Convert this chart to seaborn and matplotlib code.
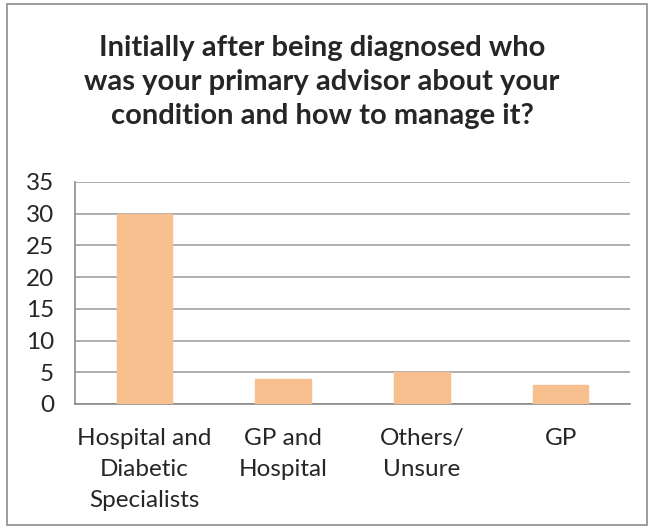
import matplotlib
matplotlib.use("Agg")
import matplotlib.pyplot as plt
import seaborn as sns
import pandas as pd
from matplotlib.patches import Rectangle

categories = ["Hospital and\nDiabetic\nSpecialists", "GP and\nHospital", "Others/\nUnsure", "GP"]
values = [30, 4, 5, 3]
title = "Initially after being diagnosed who\nwas your primary advisor about your\ncondition and how to manage it?"

sns.set_style("white")
plt.rcParams['font.family'] = ['Lato', 'DejaVu Sans']

df = pd.DataFrame({"cat": categories, "val": values})

fig = plt.figure(figsize=(6.54, 5.29), dpi=100)
ax = fig.add_axes([75/654, 1-404/529, (630-75)/654, (404-182)/529])

sns.barplot(data=df, x="cat", y="val", color="#F9C08F", saturation=1, width=0.4,
            edgecolor="#F9C08F", ax=ax, zorder=3)

ax.set_ylim(0, 35)
ax.set_xlim(-0.5, 3.5)
ax.set_yticks(range(0, 36, 5))
ax.yaxis.grid(True, color="#A0A0A0", linewidth=1.2, zorder=0)
ax.set_axisbelow(True)
for s in ["top", "right"]:
    ax.spines[s].set_visible(False)
ax.spines["left"].set_color("#8C8C8C")
ax.spines["bottom"].set_color("#8C8C8C")
ax.spines["left"].set_linewidth(1.2)
ax.spines["bottom"].set_linewidth(1.2)
ax.set_xlabel("")
ax.set_ylabel("")

ax.set_xticks([0, 1, 2, 3])
ax.set_xticklabels(categories, fontsize=17.5, linespacing=1.6)
ax.set_xticks([-0.5, 0.5, 1.5, 2.5, 3.5], minor=True)
ax.tick_params(axis="x", which="major", length=0, pad=17)
ax.tick_params(axis="x", which="minor", length=4.5, width=1.2, color="#8C8C8C", direction="out")
ax.tick_params(axis="y", length=5, width=1.2, color="#8C8C8C", direction="out", labelsize=17.5, pad=10)
ax.spines["left"].set_bounds(0, 35)

fig.text(322/654, 1-82/529, title, ha="center", va="center", fontsize=21, fontweight="bold", linespacing=1.38)

fig.patches.append(Rectangle((7/654, 4/529), 640/654, 521/529, transform=fig.transFigure,
                             fill=False, edgecolor="#8C8C8C", linewidth=1.2))

fig.savefig("out.png", dpi=100)
